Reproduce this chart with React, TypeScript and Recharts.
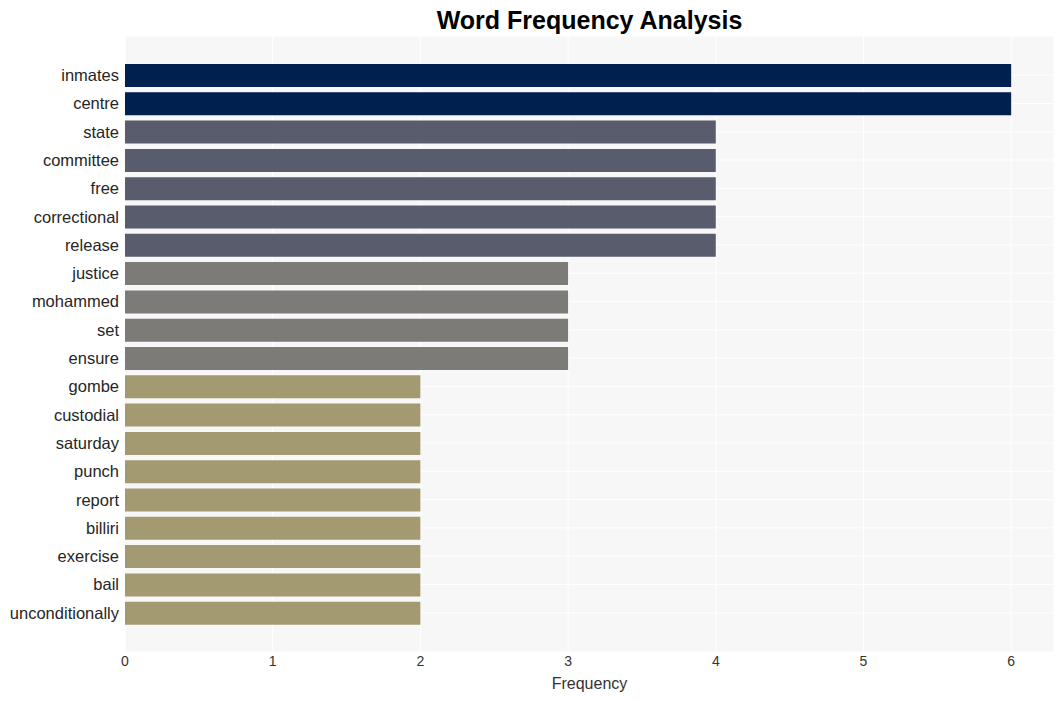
import React from "react";
import {
  BarChart,
  Bar,
  XAxis,
  YAxis,
  CartesianGrid,
  Cell,
} from "recharts";

// Word counts, top to bottom
const words = [
  "inmates",
  "centre",
  "state",
  "committee",
  "free",
  "correctional",
  "release",
  "justice",
  "mohammed",
  "set",
  "ensure",
  "gombe",
  "custodial",
  "saturday",
  "punch",
  "report",
  "billiri",
  "exercise",
  "bail",
  "unconditionally",
];
const counts = [6, 6, 4, 4, 4, 4, 4, 3, 3, 3, 3, 2, 2, 2, 2, 2, 2, 2, 2, 2];
const xTicks = [0, 1, 2, 3, 4, 5, 6];

const colorFor = (v: number) => {
  if (v >= 6) return "#00204f";
  if (v >= 4) return "#585c6d";
  if (v >= 3) return "#7c7b77";
  return "#a39a72";
};

const data = words.map((w, i) => ({ word: w, count: counts[i] }));

const font = "'Liberation Sans', Arial, sans-serif";

const App: React.FC = () => {
  return (
    <div
      style={{
        position: "absolute",
        left: 0,
        top: 0,
        width: 1064,
        height: 701,
        background: "#fff",
        fontFamily: font,
      }}
    >
      <div
        style={{
          position: "absolute",
          top: 5,
          left: 125,
          width: 929,
          textAlign: "center",
          fontSize: 25,
          fontWeight: "bold",
          color: "#000",
          lineHeight: "30px",
        }}
      >
        Word Frequency Analysis
      </div>
      <BarChart
        width={1064}
        height={701}
        layout="vertical"
        data={data}
        margin={{ top: 36, right: 10, left: 0, bottom: 0 }}
        barCategoryGap={0}
      >
        <CartesianGrid stroke="#ffffff" strokeWidth={1} fill="#f7f7f7" />
        <XAxis
          type="number"
          domain={[0, 6.29]}
          ticks={xTicks}
          allowDataOverflow
          axisLine={false}
          tickLine={false}
          tickSize={0}
          tickMargin={4}
          height={49}
          tick={{ fontSize: 14, fill: "#333", fontFamily: font }}
          label={{
            value: "Frequency",
            position: "insideBottom",
            offset: 12,
            style: { fontSize: 16, fill: "#333", fontFamily: font },
          }}
        />
        <YAxis
          type="category"
          dataKey="word"
          width={125}
          interval={0}
          axisLine={false}
          tickLine={false}
          tickSize={0}
          tickMargin={6}
          padding={{ top: 25, bottom: 25 }}
          tick={{ fontSize: 16.5, fill: "#262626", fontFamily: font }}
        />
        <Bar dataKey="count" barSize={23} isAnimationActive={false}>
          {data.map((d) => (
            <Cell key={d.word} fill={colorFor(d.count)} />
          ))}
        </Bar>
      </BarChart>
    </div>
  );
};

export default App;
